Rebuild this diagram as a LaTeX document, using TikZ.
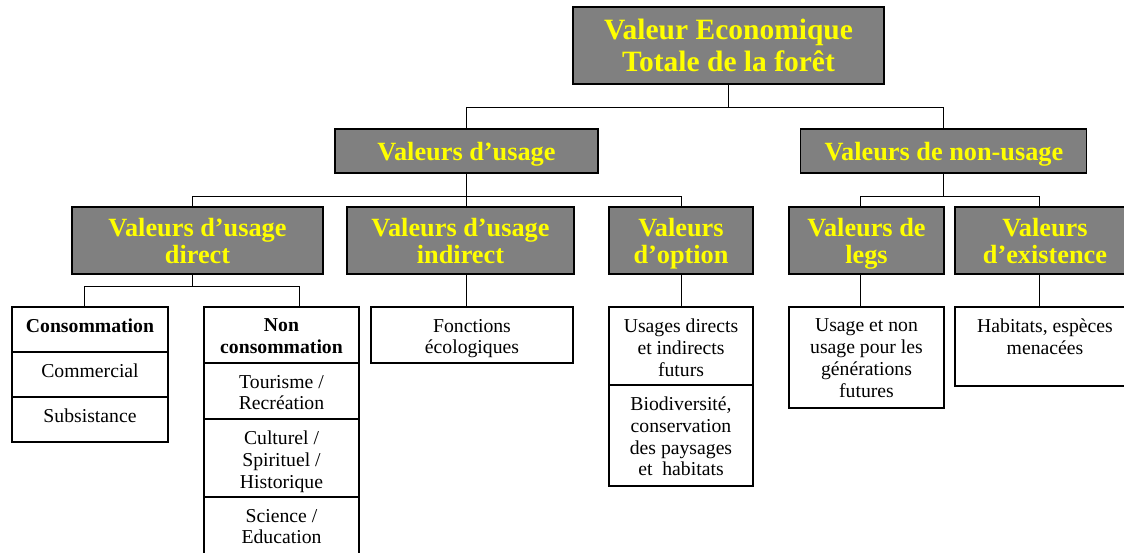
\documentclass[tikz,border=0pt]{standalone}
\usepackage{fontspec}
\setmainfont{Liberation Serif}
\usetikzlibrary{positioning}
\definecolor{boxgray}{HTML}{808080}
\definecolor{headyellow}{HTML}{FFFF00}
% top aligned text inside a cell: height, width, text
\newcommand{\celltxt}[3]{\parbox[c][#1][t]{#2}{\centering\vspace*{12pt}#3}}
\tikzset{
  head/.style={draw=black,fill=boxgray,text=headyellow,line width=1.1pt,
    inner sep=0pt,align=center,minimum height=67pt,text depth=0pt,
    font=\bfseries\fontsize{26.3}{27}\selectfont},
  sub/.style={draw=black,line width=1.1pt,inner sep=0pt,outer sep=0pt,
    font=\fontsize{19.7}{21.7}\selectfont},
  link/.style={draw=black,line width=1pt}
}
\begin{document}
\begin{tikzpicture}[x=1pt,y=-1pt]
  \useasboundingbox (0,0) rectangle (1124,552);
  % headers
  \node[head,minimum width=311pt,minimum height=77pt,
    font=\bfseries\fontsize{29.5}{31.7}\selectfont] (vet) at (728.5,45.5)
    {Valeur Economique\\Totale de la forêt};
  \node[head,minimum width=263pt,minimum height=44pt] (usage) at (466.5,151) {Valeurs d’usage};
  \node[head,minimum width=286pt,minimum height=44pt] (nonusage) at (943.9,151) {Valeurs de non-usage};
  \node[head,minimum width=251pt] (direct) at (197.5,240.5) {Valeurs d’usage\\direct};
  \node[head,minimum width=227pt] (indirect) at (460.5,240.5) {Valeurs d’usage\\indirect};
  \node[head,minimum width=144pt] (option) at (681,240.5) {Valeurs\\d’option};
  \node[head,minimum width=155pt] (legs) at (866.5,240.5) {Valeurs de\\legs};
  \node[head,minimum width=180pt] (exist) at (1045,240.5) {Valeurs\\d’existence};
  % cells
  \node[sub,anchor=north] (cons1) at (90,307) {\celltxt{45pt}{156pt}{\textbf{Consommation}}};
  \node[sub,below=0pt of cons1] (cons2) {\celltxt{45pt}{156pt}{Commercial}};
  \node[sub,below=0pt of cons2] (cons3) {\celltxt{45pt}{156pt}{Subsistance}};
  \node[sub,anchor=north] (ncons1) at (281.5,307) {\celltxt{56pt}{155pt}{\textbf{Non}\\\textbf{consommation}}};
  \node[sub,below=0pt of ncons1] (ncons2) {\celltxt{56pt}{155pt}{Tourisme /\\Recréation}};
  \node[sub,below=0pt of ncons2] (ncons3) {\celltxt{78pt}{155pt}{Culturel /\\Spirituel /\\Historique}};
  \node[sub,below=0pt of ncons3] (ncons4) {\celltxt{58pt}{155pt}{Science /\\Education}};
  \node[sub,anchor=north] (fonc) at (472,307) {\celltxt{56pt}{202pt}{Fonctions\\écologiques}};
  \node[sub,anchor=north] (opt1) at (681,307) {\celltxt{78pt}{144pt}{Usages directs\\et indirects\\futurs}};
  \node[sub,below=0pt of opt1] (opt2) {\celltxt{101pt}{144pt}{Biodiversité,\\conservation\\des paysages\\et~ habitats}};
  \node[sub,anchor=north] (legs1) at (866.5,307) {\celltxt{101pt}{155pt}{Usage et non\\usage pour les\\générations\\futures}};
  \node[sub,anchor=north] (exist1) at (1045,307) {\celltxt{79pt}{180pt}{Habitats, espèces\\menacées}};
  % connectors
  \draw[link] (vet.south) -- ++(0,23) -| (usage.north);
  \draw[link] (vet.south) -- ++(0,23) -| (nonusage.north);
  \draw[link] (usage.south) -- ++(0,23) -| ([xshift=-5.5pt]direct.north);
  \draw[link] (usage.south) -- ++(0,23) -| (option.north);
  \draw[link] (usage.south) -- (indirect.north -| usage.south);
  \draw[link] (nonusage.south) -- ++(0,23) -| ([xshift=-6.5pt]legs.north);
  \draw[link] (nonusage.south) -- ++(0,23) -| ([xshift=-6pt]exist.north);
  \draw[link] ([xshift=-5.5pt]direct.south) -- ++(0,12) -| ([xshift=-6pt]cons1.north);
  \draw[link] ([xshift=-5.5pt]direct.south) -- ++(0,12) -| ([xshift=17.5pt]ncons1.north);
  \draw[link] (indirect.south -| usage.south) -- (fonc.north -| usage.south);
  \draw[link] (option.south) -- (opt1.north);
  \draw[link] ([xshift=-6.5pt]legs.south) -- ([xshift=-6.5pt]legs1.north);
  \draw[link] ([xshift=-6pt]exist.south) -- ([xshift=-6pt]exist1.north);
\end{tikzpicture}
\end{document}
